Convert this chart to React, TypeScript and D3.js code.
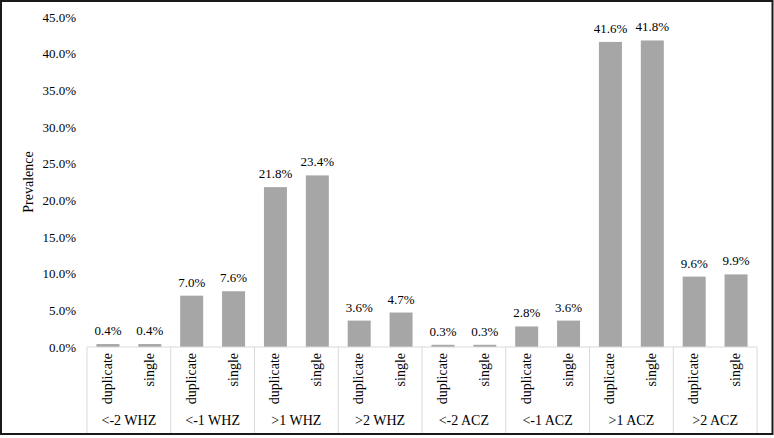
import React from "react";
import * as d3 from "d3";

const groups = ["<-2 WHZ", "<-1 WHZ", ">1 WHZ", ">2 WHZ", "<-2 ACZ", "<-1 ACZ", ">1 ACZ", ">2 ACZ"];
const subs = ["duplicate", "single"];
const duplicateValues = [0.4, 7.0, 21.8, 3.6, 0.3, 2.8, 41.6, 9.6];
const singleValues = [0.4, 7.6, 23.4, 4.7, 0.3, 3.6, 41.8, 9.9];
const yTicks = [0, 5, 10, 15, 20, 25, 30, 35, 40, 45];

const W = 774;
const H = 438;
const left = 87;
const right = 757;
const top = 17;
const bottom = 347;
const font = "'Liberation Serif', 'Times New Roman', serif";

export default function App() {
  React.useEffect(() => {
    document.body.style.margin = "0";
  }, []);
  const x0 = d3.scaleBand<string>().domain(groups).range([left, right]).padding(0);
  const x1 = d3.scaleBand<string>().domain(subs).range([0, x0.bandwidth()]).padding(0);
  const y = d3.scaleLinear().domain([0, 45]).range([bottom, top]);
  const barW = 23;
  const data = groups.flatMap((g, i) => [
    { g, s: "duplicate", v: duplicateValues[i] },
    { g, s: "single", v: singleValues[i] },
  ]);
  return (
    <svg width={W} height={H} style={{ position: "absolute", left: 0, top: 0, background: "#fff" }} fontFamily={font}>
      <rect x={1} y={1} width={771.5} height={433} fill="#fff" stroke="#1a1a1a" strokeWidth={2} />
      {yTicks.map((t) => (
        <text key={t} x={76} y={y(t)} dy="0.35em" textAnchor="end" fontSize={13} fill="#000">
          {t.toFixed(1) + "%"}
        </text>
      ))}
      <text transform={`translate(33,182) rotate(-90)`} textAnchor="middle" fontSize={14} fill="#000">
        Prevalence
      </text>
      {data.map((d, i) => {
        const cx = (x0(d.g) as number) + (x1(d.s) as number) + x1.bandwidth() / 2;
        return (
          <g key={i}>
            <rect x={cx - barW / 2} y={y(d.v)} width={barW} height={bottom - y(d.v)} fill="#a6a6a6" />
            <text x={cx} y={y(d.v) - 9} textAnchor="middle" fontSize={13} fill="#000">
              {d.v.toFixed(1) + "%"}
            </text>
            <text transform={`translate(${cx + 4},353) rotate(-90)`} textAnchor="end" fontSize={14} fill="#000">
              {d.s}
            </text>
          </g>
        );
      })}
      <line x1={left} x2={right} y1={bottom} y2={bottom} stroke="#d9d9d9" strokeWidth={1} />
      {[...groups.map((g) => x0(g) as number), right].map((gx, i) => (
        <line key={i} x1={gx} x2={gx} y1={bottom} y2={433} stroke="#d9d9d9" strokeWidth={1} />
      ))}
      {groups.map((g) => (
        <text key={g} x={(x0(g) as number) + x0.bandwidth() / 2} y={425} textAnchor="middle" fontSize={14} fill="#000">
          {g}
        </text>
      ))}
    </svg>
  );
}
